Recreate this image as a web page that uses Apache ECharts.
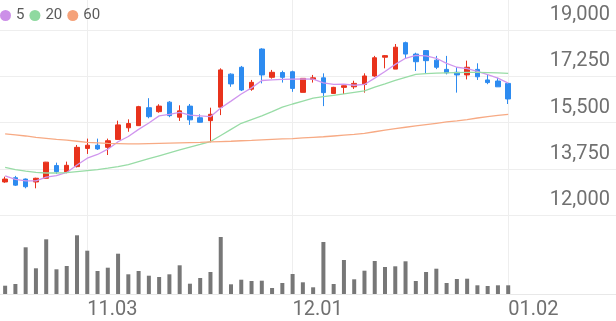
<!DOCTYPE html>
<html>
<head>
<meta charset="utf-8">
<script src="https://cdn.jsdelivr.net/npm/echarts@6/dist/echarts.min.js"></script>
<style>
html,body{margin:0;padding:0;background:#fff;}
#chart{width:616px;height:321px;}
</style>
</head>
<body>
<div id="chart"></div>
<script>
// Trading dates (MM.DD)
const dates = [
  '10.22','10.23','10.24','10.27','10.28','10.29','10.30','10.31',
  '11.03','11.04','11.05','11.06','11.07','11.10','11.11','11.12','11.13','11.14',
  '11.17','11.18','11.19','11.20','11.21','11.24','11.25','11.26','11.27','11.28',
  '12.01','12.02','12.03','12.04','12.05','12.08','12.09','12.10','12.11','12.12',
  '12.15','12.16','12.17','12.18','12.19','12.22','12.23','12.24','12.26','12.29','12.30',
  '01.02'
];
const xTickLabels = ['11.03', '12.01', '01.02'];
const yTicks = [12000, 13750, 15500, 17250, 19000];

// [open, close, low, high]
const ohlc = [
  [13250,13360,13220,13450],[13410,13130,13100,13480],[13360,13070,13010,13380],[13250,13390,13010,13410],
  [13390,14000,13390,14010],[13870,13640,13550,13980],[13630,13880,13580,14020],[13830,14560,13800,14650],
  [14520,14640,14310,14890],[14640,14500,14460,14890],[14560,14810,14270,14890],[14860,15410,14840,15570],
  [15300,15460,15150,15620],[15380,16100,15370,16130],[16060,15720,15660,16420],[15910,16120,15870,16190],
  [16270,15760,15700,16310],[15700,15940,15560,16150],[16120,15600,15410,16200],[15680,15510,15500,15810],
  [15570,15810,14750,16060],[16080,17490,15780,17550],[17330,16960,16850,17360],[17590,16730,16690,17640],
  [16760,17020,16700,17110],[18280,17300,16980,18310],[17210,17400,17160,17490],[17390,17210,17010,17460],
  [17420,16790,16660,17460],[16640,17170,16640,17180],[17130,17190,17010,17300],[17190,16630,16120,17360],
  [16600,16830,16590,16850],[16830,16890,16580,16900],[16850,16980,16770,17080],[16940,17260,16630,17360],
  [17260,17950,17230,18020],[17970,18030,17550,18050],[17520,18350,17520,18470],[18520,18090,17930,18560],
  [18090,17800,17450,18140],[18220,17840,17360,18240],[17860,17590,17520,18020],[17510,17380,17320,18020],
  [17400,17300,16630,17600],[17300,17590,17130,17840],[17510,17230,17110,17740],[17110,17010,16950,17320],
  [17070,16850,16850,17190],[16980,16390,16200,16980]
];

const ma5 = [
  13480,13350,13290,13290,13430,13490,13610,13890,14150,14290,
  14490,14770,14970,15240,15480,15750,15810,15880,15780,15750,
  15720,16050,16310,16580,16810,17090,17110,17130,17140,17150,
  17140,17000,16940,16950,16910,16940,17180,17430,17700,17930,
  18040,18020,17930,17740,17590,17540,17430,17310,17180,16990
];
const ma20 = [
  13800,13720,13660,13610,13590,13590,13600,13640,13680,13720,
  13770,13830,13910,14020,14130,14240,14350,14460,14570,14670,
  14780,15010,15240,15470,15610,15750,15910,16080,16200,16310,
  16420,16480,16530,16580,16640,16700,16840,16960,17090,17210,
  17320,17350,17370,17380,17390,17400,17400,17390,17380,17360
];
const ma60 = [
  15070,15030,14990,14940,14900,14860,14830,14790,14750,14730,
  14710,14700,14690,14690,14700,14710,14720,14730,14740,14750,
  14770,14780,14790,14810,14820,14840,14860,14880,14890,14920,
  14940,14960,14990,15020,15050,15090,15150,15210,15270,15320,
  15370,15420,15470,15520,15560,15610,15670,15720,15770,15810
];
const volume = [
  83000,100000,467000,257000,547000,247000,280000,587000,433000,230000,
  263000,403000,197000,230000,183000,170000,197000,287000,103000,160000,
  220000,570000,97000,143000,130000,133000,60000,110000,200000,117000,
  67000,520000,100000,340000,147000,233000,330000,270000,277000,327000,
  130000,220000,253000,110000,150000,153000,87000,80000,87000,87000
];

// empty slots on the right of the plot (room for price labels)
const padSlots = Array.from({length: 10}, (_, k) => ' '.repeat(k + 1));
const categories = dates.concat(padSlots);

const RED = '#e8321c', BLUE = '#2d8bf0';
const FONT = 'Roboto';

const chart = echarts.init(document.getElementById('chart'), null, {renderer: 'canvas'});
chart.setOption({
  animation: false,
  backgroundColor: '#fff',
  legend: {
    data: ['5', '20', '60'],
    left: 0, top: 8, padding: 0,
    icon: 'circle', itemWidth: 11, itemHeight: 11, itemGap: 5,
    textStyle: {fontSize: 15, color: '#5a5a5a', fontFamily: FONT},
    selectedMode: false
  },
  grid: [
    {left: 0, right: 0, top: 30, height: 185},
    {left: 0, right: 0, top: 215, bottom: 27},
    {left: 0, right: 0, top: 0, bottom: 27}
  ],
  xAxis: [
    {type: 'category', gridIndex: 0, data: categories, show: false},
    {type: 'category', gridIndex: 1, data: categories,
      axisLine: {show: true, lineStyle: {color: '#e8e8e8'}},
      axisTick: {show: false}, axisLabel: {show: false}, splitLine: {show: false}},
    {type: 'category', gridIndex: 2, data: categories,
      axisLine: {show: false}, axisTick: {show: false},
      axisLabel: {
        show: true, interval: (i, v) => xTickLabels.includes(v),
        align: 'left', margin: 6, fontSize: 20, color: '#707070', fontFamily: FONT
      },
      splitLine: {
        show: true, alignWithLabel: true,
        interval: (i, v) => xTickLabels.includes(v),
        lineStyle: {color: '#eeeeee', width: 1}
      }
    }
  ],
  yAxis: [
    {type: 'value', gridIndex: 0, position: 'right',
      min: yTicks[0], max: yTicks[yTicks.length - 1], interval: yTicks[1] - yTicks[0],
      axisLine: {show: false}, axisTick: {show: false},
      splitLine: {show: true, lineStyle: {color: '#eeeeee', width: 1}},
      axisLabel: {
        inside: true, margin: 6, verticalAlign: 'bottom', padding: [0, 0, 5, 0],
        fontSize: 20, color: '#707070', fontFamily: FONT,
        formatter: v => v.toLocaleString('en-US')
      }
    },
    {type: 'value', gridIndex: 1, min: 0, max: 790000, show: false, splitLine: {show: false}},
    {type: 'value', gridIndex: 2, min: 0, max: 1, show: false, splitLine: {show: false}}
  ],
  series: [
    {
      type: 'candlestick', name: 'price', xAxisIndex: 0, yAxisIndex: 0,
      data: ohlc, barWidth: 5,
      itemStyle: {color: RED, color0: BLUE, borderColor: RED, borderColor0: BLUE, borderWidth: 1}
    },
    {type: 'line', name: '5', xAxisIndex: 0, yAxisIndex: 0, data: ma5, symbol: 'none',
      lineStyle: {color: '#d096ee', width: 1.3}, itemStyle: {color: '#cc8fe8'}, z: 3},
    {type: 'line', name: '20', xAxisIndex: 0, yAxisIndex: 0, data: ma20, symbol: 'none',
      lineStyle: {color: '#98dca6', width: 1.3}, itemStyle: {color: '#8fd9a0'}, z: 3},
    {type: 'line', name: '60', xAxisIndex: 0, yAxisIndex: 0, data: ma60, symbol: 'none',
      lineStyle: {color: '#f7aa84', width: 1.3}, itemStyle: {color: '#f5a27a'}, z: 3},
    {type: 'bar', name: 'volume', xAxisIndex: 1, yAxisIndex: 1, data: volume,
      barWidth: 4, itemStyle: {color: '#777777'}}
  ]
});
</script>
</body>
</html>
